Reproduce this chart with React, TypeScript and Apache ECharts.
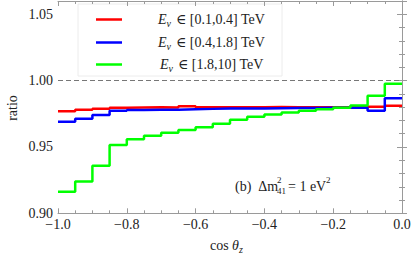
import React, { useEffect, useRef } from "react";
import * as echarts from "echarts";

const binLeft = [-1.0, -0.95, -0.9, -0.85, -0.8, -0.75, -0.7, -0.65, -0.6, -0.55, -0.5, -0.45, -0.4, -0.35, -0.3, -0.25, -0.2, -0.15, -0.1, -0.05];
const binEnd = 0.0;
const redVals = [0.977, 0.978, 0.9788, 0.9795, 0.9798, 0.98, 0.9798, 0.9806, 0.98, 0.98, 0.98, 0.98, 0.9802, 0.98, 0.98, 0.98, 0.98, 0.9803, 0.9803, 0.981];
const blueVals = [0.969, 0.9712, 0.974, 0.9772, 0.9778, 0.978, 0.978, 0.9785, 0.9787, 0.9789, 0.979, 0.979, 0.9792, 0.9793, 0.9794, 0.9795, 0.9795, 0.9795, 0.9772, 0.9868];
const greenVals = [0.9163, 0.9239, 0.9358, 0.9514, 0.9558, 0.9585, 0.9607, 0.9627, 0.9648, 0.9675, 0.9705, 0.9728, 0.9745, 0.976, 0.9772, 0.9784, 0.9796, 0.9813, 0.9886, 0.9977];
const seriesNames = ["∈ [0.1,0.4] TeV", "∈ [0.4,1.8] TeV", "∈ [1.8,10] TeV"];
const seriesColors = ["#ff0000", "#0000ff", "#00ff00"];
const refLine = 1.0;

const FONT = "'Liberation Serif', 'DejaVu Serif', serif";
const FRAME = "#9a9a9a";
const TXT = "#222";

function toSteps(vals: number[]) {
  const d = binLeft.map((x, i) => [x, vals[i]]);
  d.push([binEnd, vals[vals.length - 1]]);
  return d;
}

function fmtX(v: number) {
  const s = Math.abs(v).toFixed(1);
  return v < -1e-9 ? "\u2212" + s : s;
}
function fmtY(v: number) {
  if (Math.abs(v * 20 - Math.round(v * 20)) > 1e-6) return "";
  return v.toFixed(2);
}

export default function App() {
  const ref = useRef<HTMLDivElement>(null);
  useEffect(() => {
    if (!ref.current) return;
    const chart = echarts.init(ref.current, null, { renderer: "svg" });
    const yBase = { type: "value", min: 0.9, max: 1.06, splitLine: { show: false } };
    const xBase = { type: "value", min: -1, max: 0, interval: 0.2, splitLine: { show: false } };
    const legendYs = [19.5, 42.5, 64.5];
    const graphic: any[] = [];
    graphic.push({
      type: "rect",
      shape: { x: 78, y: 4, width: 204, height: 72 },
      style: { fill: "none", stroke: "#ececec", lineWidth: 1 },
      silent: true,
    });
    legendYs.forEach((y, i) => {
      graphic.push({
        type: "line",
        shape: { x1: 96, y1: y, x2: 122, y2: y },
        style: { stroke: seriesColors[i], lineWidth: 2.5 },
      });
      const x0 = i === 2 ? 160 : 158;
      graphic.push({
        type: "text", x: x0, y: y,
        style: { text: "E", font: `italic 14px ${FONT}`, fill: TXT, verticalAlign: "middle", textAlign: "left" },
      });
      graphic.push({
        type: "text", x: x0 + 8.5, y: y + 4,
        style: { text: "ν", font: `italic 10px ${FONT}`, fill: TXT, verticalAlign: "middle", textAlign: "left" },
      });
      graphic.push({
        type: "text", x: x0 + 18, y: y,
        style: { text: seriesNames[i], font: `14px ${FONT}`, fill: TXT, verticalAlign: "middle", textAlign: "left" },
      });
    });
    // annotation
    const ay = 186;
    graphic.push({ type: "text", x: 235, y: ay, style: { text: "(b)  Δm", font: `14px ${FONT}`, fill: TXT, verticalAlign: "middle" } });
    graphic.push({ type: "text", x: 277, y: ay - 6, style: { text: "2", font: `9px ${FONT}`, fill: TXT, verticalAlign: "middle" } });
    graphic.push({ type: "text", x: 277, y: ay + 5, style: { text: "41", font: `9px ${FONT}`, fill: TXT, verticalAlign: "middle" } });
    graphic.push({ type: "text", x: 288, y: ay, style: { text: "= 1 eV", font: `14px ${FONT}`, fill: TXT, verticalAlign: "middle" } });
    graphic.push({ type: "text", x: 326, y: ay - 6, style: { text: "2", font: `9px ${FONT}`, fill: TXT, verticalAlign: "middle" } });
    // axis titles
    graphic.push({ type: "text", x: 12, y: 108, rotation: Math.PI / 2, style: { text: "ratio", font: `14px ${FONT}`, fill: TXT, verticalAlign: "middle", textAlign: "center" } });
    graphic.push({ type: "text", x: 210, y: 245, style: { text: "cos ", font: `14px ${FONT}`, fill: TXT, verticalAlign: "middle" } });
    graphic.push({ type: "text", x: 232, y: 245, style: { text: "θ", font: `italic 14px ${FONT}`, fill: TXT, verticalAlign: "middle" } });
    graphic.push({ type: "text", x: 239, y: 249, style: { text: "z", font: `italic 10px ${FONT}`, fill: TXT, verticalAlign: "middle" } });

    const mk = (name: string, vals: number[], color: string, extra: any = {}) => ({
      name, type: "line", step: "end", data: toSteps(vals), showSymbol: false, symbol: "none",
      lineStyle: { color, width: 2.5 }, itemStyle: { color }, xAxisIndex: 0, yAxisIndex: 0, ...extra,
    });

    chart.setOption({
      animation: false,
      grid: { left: 58, right: 13, top: 1, bottom: 46.7, show: false },
      xAxis: [
        { ...xBase, position: "bottom",
          axisLine: { show: true, lineStyle: { color: FRAME, width: 1 } },
          axisTick: { show: true, inside: true, length: 5, lineStyle: { color: FRAME } },
          minorTick: { show: true, splitNumber: 4, length: 3, lineStyle: { color: FRAME } },
          axisLabel: { formatter: fmtX, fontFamily: FONT, fontSize: 14, color: TXT, margin: 4 } },
        { ...xBase, position: "top",
          axisLine: { show: true, lineStyle: { color: FRAME, width: 1 } },
          axisTick: { show: true, inside: true, length: 5, lineStyle: { color: FRAME } },
          minorTick: { show: true, splitNumber: 4, length: 3, lineStyle: { color: FRAME } },
          axisLabel: { show: false } },
      ],
      yAxis: [
        { ...yBase, position: "left", interval: 0.05,
          axisLine: { show: true, lineStyle: { color: FRAME, width: 1 } },
          axisTick: { show: true, inside: true, length: 5, lineStyle: { color: FRAME } },
          axisLabel: { formatter: fmtY, fontFamily: FONT, fontSize: 14, color: TXT, margin: 5 } },
        { ...yBase, position: "left", interval: 0.01,
          axisLine: { show: false },
          axisTick: { show: true, inside: true, length: 3, lineStyle: { color: FRAME } },
          axisLabel: { show: false } },
        { ...yBase, position: "right", interval: 0.05,
          axisLine: { show: true, lineStyle: { color: FRAME, width: 1 } },
          axisTick: { show: true, inside: true, length: 5, lineStyle: { color: FRAME } },
          axisLabel: { show: false } },
        { ...yBase, position: "right", interval: 0.01,
          axisLine: { show: false },
          axisTick: { show: true, inside: true, length: 3, lineStyle: { color: FRAME } },
          axisLabel: { show: false } },
      ],
      series: [
        mk(seriesNames[0], redVals, seriesColors[0], {
          markLine: {
            silent: true, symbol: "none", label: { show: false },
            lineStyle: { color: "#777", width: 1, type: [5, 3] },
            data: [{ yAxis: refLine }],
          },
        }),
        mk(seriesNames[1], blueVals, seriesColors[1]),
        mk(seriesNames[2], greenVals, seriesColors[2]),
      ],
      graphic,
    });
    return () => chart.dispose();
  }, []);
  return <div ref={ref} style={{ width: 415, height: 260, position: "absolute", left: 0, top: 0 }} />;
}
